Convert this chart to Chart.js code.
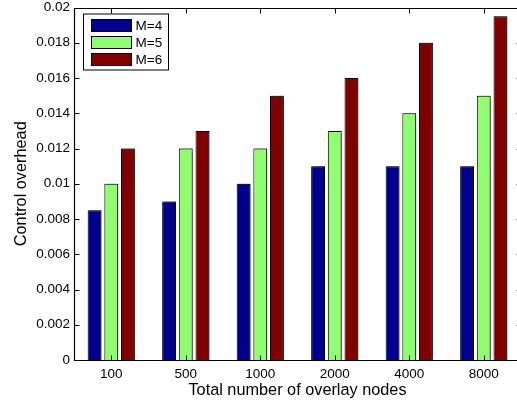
<!DOCTYPE html>
<html>
<head>
<meta charset="utf-8">
<script src="https://cdn.jsdelivr.net/npm/chart.js@4/dist/chart.umd.min.js"></script>
<style>
  html, body { margin: 0; padding: 0; background: #fff; overflow: hidden; }
  #wrap { width: 517px; height: 403px; }
</style>
</head>
<body>
<div id="wrap"><canvas id="c" width="517" height="403"></canvas></div>
<script>
// Overlay size categories and control overhead per cluster size M
const categories = ['100', '500', '1000', '2000', '4000', '8000'];
const seriesNames = ['M=4', 'M=5', 'M=6'];
const m4 = [0.0085, 0.009, 0.010, 0.011, 0.011, 0.011];
const m5 = [0.010, 0.012, 0.012, 0.013, 0.014, 0.015];
const m6 = [0.012, 0.013, 0.015, 0.016, 0.018, 0.0195];
const yTickLabels = ['0', '0.002', '0.004', '0.006', '0.008', '0.01',
                     '0.012', '0.014', '0.016', '0.018', '0.02'];
const seriesColors = ['#00008f', '#8fff6f', '#800000'];

const FONT = '"Liberation Sans", Arial, Helvetica, sans-serif';
const PLOT_RIGHT = 521;   // the axes box runs slightly past the canvas edge

// Stretch the plot area (and the x scale) to the right edge of the axes box
const widenPlugin = {
  id: 'widen',
  afterLayout(chart) {
    const a = chart.chartArea, x = chart.scales.x;
    a.right = PLOT_RIGHT;
    a.width = a.right - a.left;
    x.right = PLOT_RIGHT;
    x.width = x.right - x.left;
    x.configure();
  }
};

// Axes box (left, top, bottom spines) with inward tick marks on all four sides
const framePlugin = {
  id: 'frame',
  afterDraw(chart) {
    const { ctx, chartArea: a, scales } = chart;
    const L = Math.round(a.left) + 0.5, R = Math.round(a.right) + 0.5;
    const T = Math.round(a.top) + 0.5, B = Math.round(a.bottom) + 0.5;
    ctx.save();
    ctx.strokeStyle = '#000';
    ctx.lineWidth = 1.2;
    ctx.beginPath();
    ctx.moveTo(R, T); ctx.lineTo(L, T); ctx.lineTo(L, B); ctx.lineTo(R, B);
    ctx.stroke();
    ctx.lineWidth = 1;
    const tl = 5;
    ctx.beginPath();
    scales.y.ticks.forEach(t => {
      const y = Math.round(scales.y.getPixelForValue(t.value)) + 0.5;
      ctx.moveTo(L, y); ctx.lineTo(L + tl, y);
      ctx.moveTo(R, y); ctx.lineTo(R - tl, y);
    });
    categories.forEach((c, i) => {
      const x = Math.round(scales.x.getPixelForValue(i)) + 0.5;
      ctx.moveTo(x, B); ctx.lineTo(x, B - tl);
      ctx.moveTo(x, T); ctx.lineTo(x, T + tl);
    });
    ctx.stroke();
    ctx.restore();
  }
};

// Soft grey edge on the bars
const shadowPlugin = {
  id: 'barShadow',
  beforeDatasetsDraw(chart) {
    const ctx = chart.ctx;
    ctx.save();
    ctx.shadowColor = 'rgba(0,0,0,0.45)';
    ctx.shadowOffsetX = 1.5;
    ctx.shadowOffsetY = -0.5;
    ctx.shadowBlur = 1;
  },
  afterDatasetsDraw(chart) {
    chart.ctx.restore();
  }
};

// Boxed legend in the upper-left corner of the plot
const legendPlugin = {
  id: 'boxLegend',
  afterDraw(chart) {
    const { ctx, chartArea: a } = chart;
    const x0 = Math.round(a.left) + 9.5, y0 = Math.round(a.top) + 6;
    const w = 85, h = 56;
    ctx.save();
    ctx.fillStyle = '#fff';
    ctx.strokeStyle = '#000';
    ctx.lineWidth = 1;
    ctx.fillRect(x0, y0, w, h);
    ctx.strokeRect(x0, y0, w, h);
    ctx.font = '13.5px ' + FONT;
    ctx.textBaseline = 'middle';
    chart.data.datasets.forEach((ds, i) => {
      const cy = y0 + 11.5 + i * 17;
      ctx.fillStyle = ds.backgroundColor;
      ctx.fillRect(x0 + 8, cy - 6, 40, 12);
      ctx.strokeRect(x0 + 8, cy - 6, 40, 12);
      ctx.fillStyle = '#000';
      ctx.fillText(ds.label, x0 + 52, cy + 0.5);
    });
    ctx.restore();
  }
};

const datasets = [m4, m5, m6].map((vals, i) => ({
  label: seriesNames[i],
  data: vals,
  backgroundColor: seriesColors[i],
  borderColor: '#000',
  borderWidth: 1,
  categoryPercentage: 0.672,
  barPercentage: 0.83,
  clip: false
}));

new Chart(document.getElementById('c'), {
  type: 'bar',
  data: { labels: categories, datasets },
  plugins: [widenPlugin, shadowPlugin, framePlugin, legendPlugin],
  options: {
    responsive: false,
    animation: false,
    layout: { padding: { top: 7.5, right: 0, left: 0, bottom: 0 } },
    plugins: { legend: { display: false }, tooltip: { enabled: false } },
    scales: {
      x: {
        grid: { display: false, drawTicks: false },
        border: { display: false },
        ticks: { color: '#000', padding: 6, font: { family: FONT, size: 13.5 }, maxRotation: 0 },
        title: {
          display: true, text: 'Total number of overlay nodes', color: '#000',
          font: { family: FONT, size: 16.3 }, padding: { top: 0, bottom: 3 }
        },
        afterFit(s) { s.height = 43; s.paddingLeft = 0; s.paddingRight = 0; }
      },
      y: {
        min: 0, max: 0.02,
        grid: { display: false, drawTicks: false },
        border: { display: false },
        ticks: {
          stepSize: 0.002, color: '#000', padding: 4,
          font: { family: FONT, size: 13.5 },
          callback: (v, i) => yTickLabels[i]
        },
        title: {
          display: true, text: 'Control overhead', color: '#000',
          font: { family: FONT, size: 16.3 }, padding: { top: 12, bottom: 0 }
        },
        afterFit(s) { s.width = 74; s.paddingTop = 0; s.paddingBottom = 0; }
      }
    }
  }
});
</script>
</body>
</html>
